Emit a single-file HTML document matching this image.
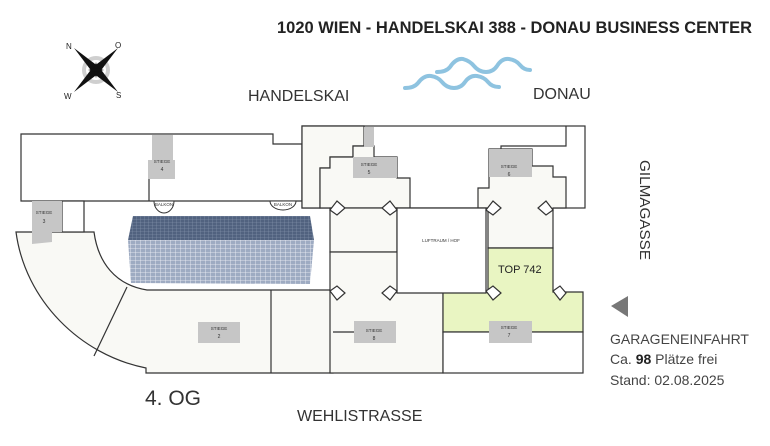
<!DOCTYPE html>
<html><head><meta charset="utf-8"><style>
html,body{margin:0;padding:0;background:#fff;}
svg{display:block;}
text{font-family:"Liberation Sans",sans-serif;}
</style></head><body>
<svg width="770" height="446" viewBox="0 0 770 446" xmlns="http://www.w3.org/2000/svg">
<defs>
<pattern id="gridTop" width="4" height="3" patternUnits="userSpaceOnUse"><rect width="4" height="3" fill="#51627f"/><path d="M0 0H4M0 0V3" stroke="#8c9ab2" stroke-width="0.6"/></pattern>
<pattern id="gridFront" width="5" height="4" patternUnits="userSpaceOnUse"><rect width="5" height="4" fill="#9eabc2"/><path d="M0 0H5M0 0V4" stroke="#f2f4f8" stroke-width="0.8"/></pattern>
</defs>
<text x="277" y="33" font-size="17" font-weight="bold" fill="#222" textLength="475" lengthAdjust="spacingAndGlyphs">1020 WIEN - HANDELSKAI 388 - DONAU BUSINESS CENTER</text>
<!-- compass -->
<g transform="translate(96,70)">
<circle r="12" fill="none" stroke="#cfcfcf" stroke-width="4"/>
<polygon points="-22,-22 3,-3 -3,3" fill="#111"/>
<polygon points="22,-22 3,3 -3,-3" fill="#111"/>
<polygon points="22,22 -3,3 3,-3" fill="#111"/>
<polygon points="-22,22 -3,-3 3,3" fill="#111"/>
<polygon points="0,-8 2,0 0,8 -2,0" fill="#111"/>
<polygon points="-8,0 0,2 8,0 0,-2" fill="#111"/>
<text x="-30" y="-21" font-size="8" fill="#222">N</text>
<text x="19" y="-22" font-size="8" fill="#222">O</text>
<text x="20" y="28" font-size="8" fill="#222">S</text>
<text x="-32" y="29" font-size="8" fill="#222">W</text>
</g>
<text x="248" y="101" font-size="16" fill="#333">HANDELSKAI</text>
<text x="533" y="99" font-size="16" fill="#333">DONAU</text>
<!-- waves -->
<g fill="none" stroke="#8ec3e0" stroke-width="4" stroke-linecap="round">
<path d="M437 72 Q446 72 450 67 Q456 58 463 59 Q470 61 474 66 Q479 72 486 72 Q493 72 497 66 Q502 58 509 59 Q516 60 520 65 Q524 70 530 70"/>
<path d="M405 88 Q414 88 418 83 Q424 75 431 76 Q438 77 442 82 Q447 88 454 88 Q461 88 465 82 Q470 75 477 76 Q484 77 488 82 Q492 87 499 87"/>
</g>
<!-- floor plan fills -->
<g stroke="#333" stroke-width="1.2">
<polygon points="21,134 273,134 273,144 302,144 302,201 21,201" fill="#fff"/>
<path d="M16,232 L94,232 C98,262 115,285 147,290 L333,290 L333,373 L146,373 L146,368 C80,355 25,300 16,232 Z" fill="#f9f9f5"/>
<line x1="127" y1="287" x2="94" y2="356"/>
<line x1="271" y1="290" x2="271" y2="373"/>
<rect x="62" y="201" width="22" height="31" fill="#fff"/>
<rect x="302" y="126" width="283" height="82" fill="#fff"/>
<polygon points="302,126 364,126 364,146 353,146 353,157 330,157 330,168 320,168 320,208 302,208" fill="#f9f9f5"/>
<path d="M566,126 V146 H501 V149" fill="none"/>
<polygon points="320,168 330,168 330,157 353,157 353,146 374,146 374,157 397,157 397,178 410,178 410,208 320,208" fill="#f9f9f5"/>
<rect x="330" y="208" width="67" height="44" fill="#f9f9f5"/>
<rect x="330" y="252" width="113" height="121" fill="#f9f9f5"/>
<polygon points="478,208 478,188 489,188 489,149 532,149 532,166 553,166 553,177 566,177 566,208 553,208 553,248 488,248 488,208" fill="#f9f9f5"/>
<polygon points="488,248 553,248 553,292 583,292 583,332 443,332 443,292 488,292" fill="#e9f5c2"/>
<rect x="443" y="332" width="140" height="41" fill="#fff"/>
<polygon points="397,208 486,208 486,293 397,293" fill="#fff"/>
<polyline points="333,332 354,332" fill="none"/>
</g>
<!-- chamfer notches -->
<g fill="#fff" stroke="#333" stroke-width="1.2">
<polygon points="330,210 337,201 345,208 337,215"/>
<polygon points="397,210 390,201 382,208 390,215"/>
<polygon points="486,210 493,201 501,208 493,215"/>
<polygon points="553,210 546,201 538,208 546,215"/>
<polygon points="330,291 337,300 345,293 337,286"/>
<polygon points="397,291 390,300 382,293 390,286"/>
<polygon points="486,291 493,300 501,293 493,286"/>
<polygon points="553,291 560,300 566,293 560,286"/>
</g>
<g fill="#fff" stroke="#333" stroke-width="1">
<path d="M154,201 A10 12 0 0 0 174,201 Z"/>
<path d="M270,201 A13 9 0 0 0 296,201 Z"/>
</g>
<text x="164" y="206" font-size="4.5" text-anchor="middle" fill="#333">BALKON</text>
<text x="283" y="206" font-size="4.5" text-anchor="middle" fill="#333">BALKON</text>
<g fill="#c6c6c6">
<rect x="152" y="135" width="21" height="25"/><rect x="148" y="160" width="27" height="19"/>
<polygon points="32,201 62,201 62,232 52,232 52,242 32,244"/>
<rect x="364" y="127" width="10" height="20"/><rect x="353" y="157" width="44" height="21"/>
<rect x="489" y="149" width="43" height="28"/>
<rect x="198" y="322" width="42" height="21"/>
<rect x="354" y="321" width="42" height="22"/>
<rect x="489" y="321" width="43" height="22"/>
</g>
<line x1="149" y1="179" x2="149" y2="201" stroke="#333" stroke-width="1.2"/>
<g font-size="4.5" fill="#333" text-anchor="middle">
<text x="162" y="163">STIEGE</text><text x="162" y="171" font-size="5">4</text>
<text x="44" y="214">STIEGE</text><text x="44" y="223" font-size="5">3</text>
<text x="369" y="166">STIEGE</text><text x="369" y="174" font-size="5">5</text>
<text x="509" y="168">STIEGE</text><text x="509" y="176" font-size="5">6</text>
<text x="219" y="330">STIEGE</text><text x="219" y="338" font-size="5">2</text>
<text x="374" y="332">STIEGE</text><text x="374" y="340" font-size="5">8</text>
<text x="509" y="329">STIEGE</text><text x="509" y="337" font-size="5">7</text>
<text x="441" y="242">LUFTRAUM / HOF</text>
</g>
<text x="498" y="273" font-size="11" fill="#222">TOP 742</text>
<polygon points="133,216 310,216 314,240 128,240" fill="url(#gridTop)"/>
<polygon points="128,240 314,240 310,284 131,283" fill="url(#gridFront)"/>
<text transform="translate(640,160) rotate(90)" font-size="15" fill="#333" textLength="100" lengthAdjust="spacingAndGlyphs">GILMAGASSE</text>
<polygon points="628,296 628,317 611,306" fill="#777"/>
<text x="610" y="344" font-size="14" fill="#444">GARAGENEINFAHRT</text>
<text x="610" y="364" font-size="14" fill="#444">Ca. <tspan font-weight="bold" fill="#222">98</tspan> Plätze frei</text>
<text x="610" y="385" font-size="14" fill="#444">Stand: 02.08.2025</text>
<text x="145" y="405" font-size="21" fill="#333">4. OG</text>
<text x="297" y="421" font-size="16" fill="#333">WEHLISTRASSE</text>
</svg>
</body></html>
